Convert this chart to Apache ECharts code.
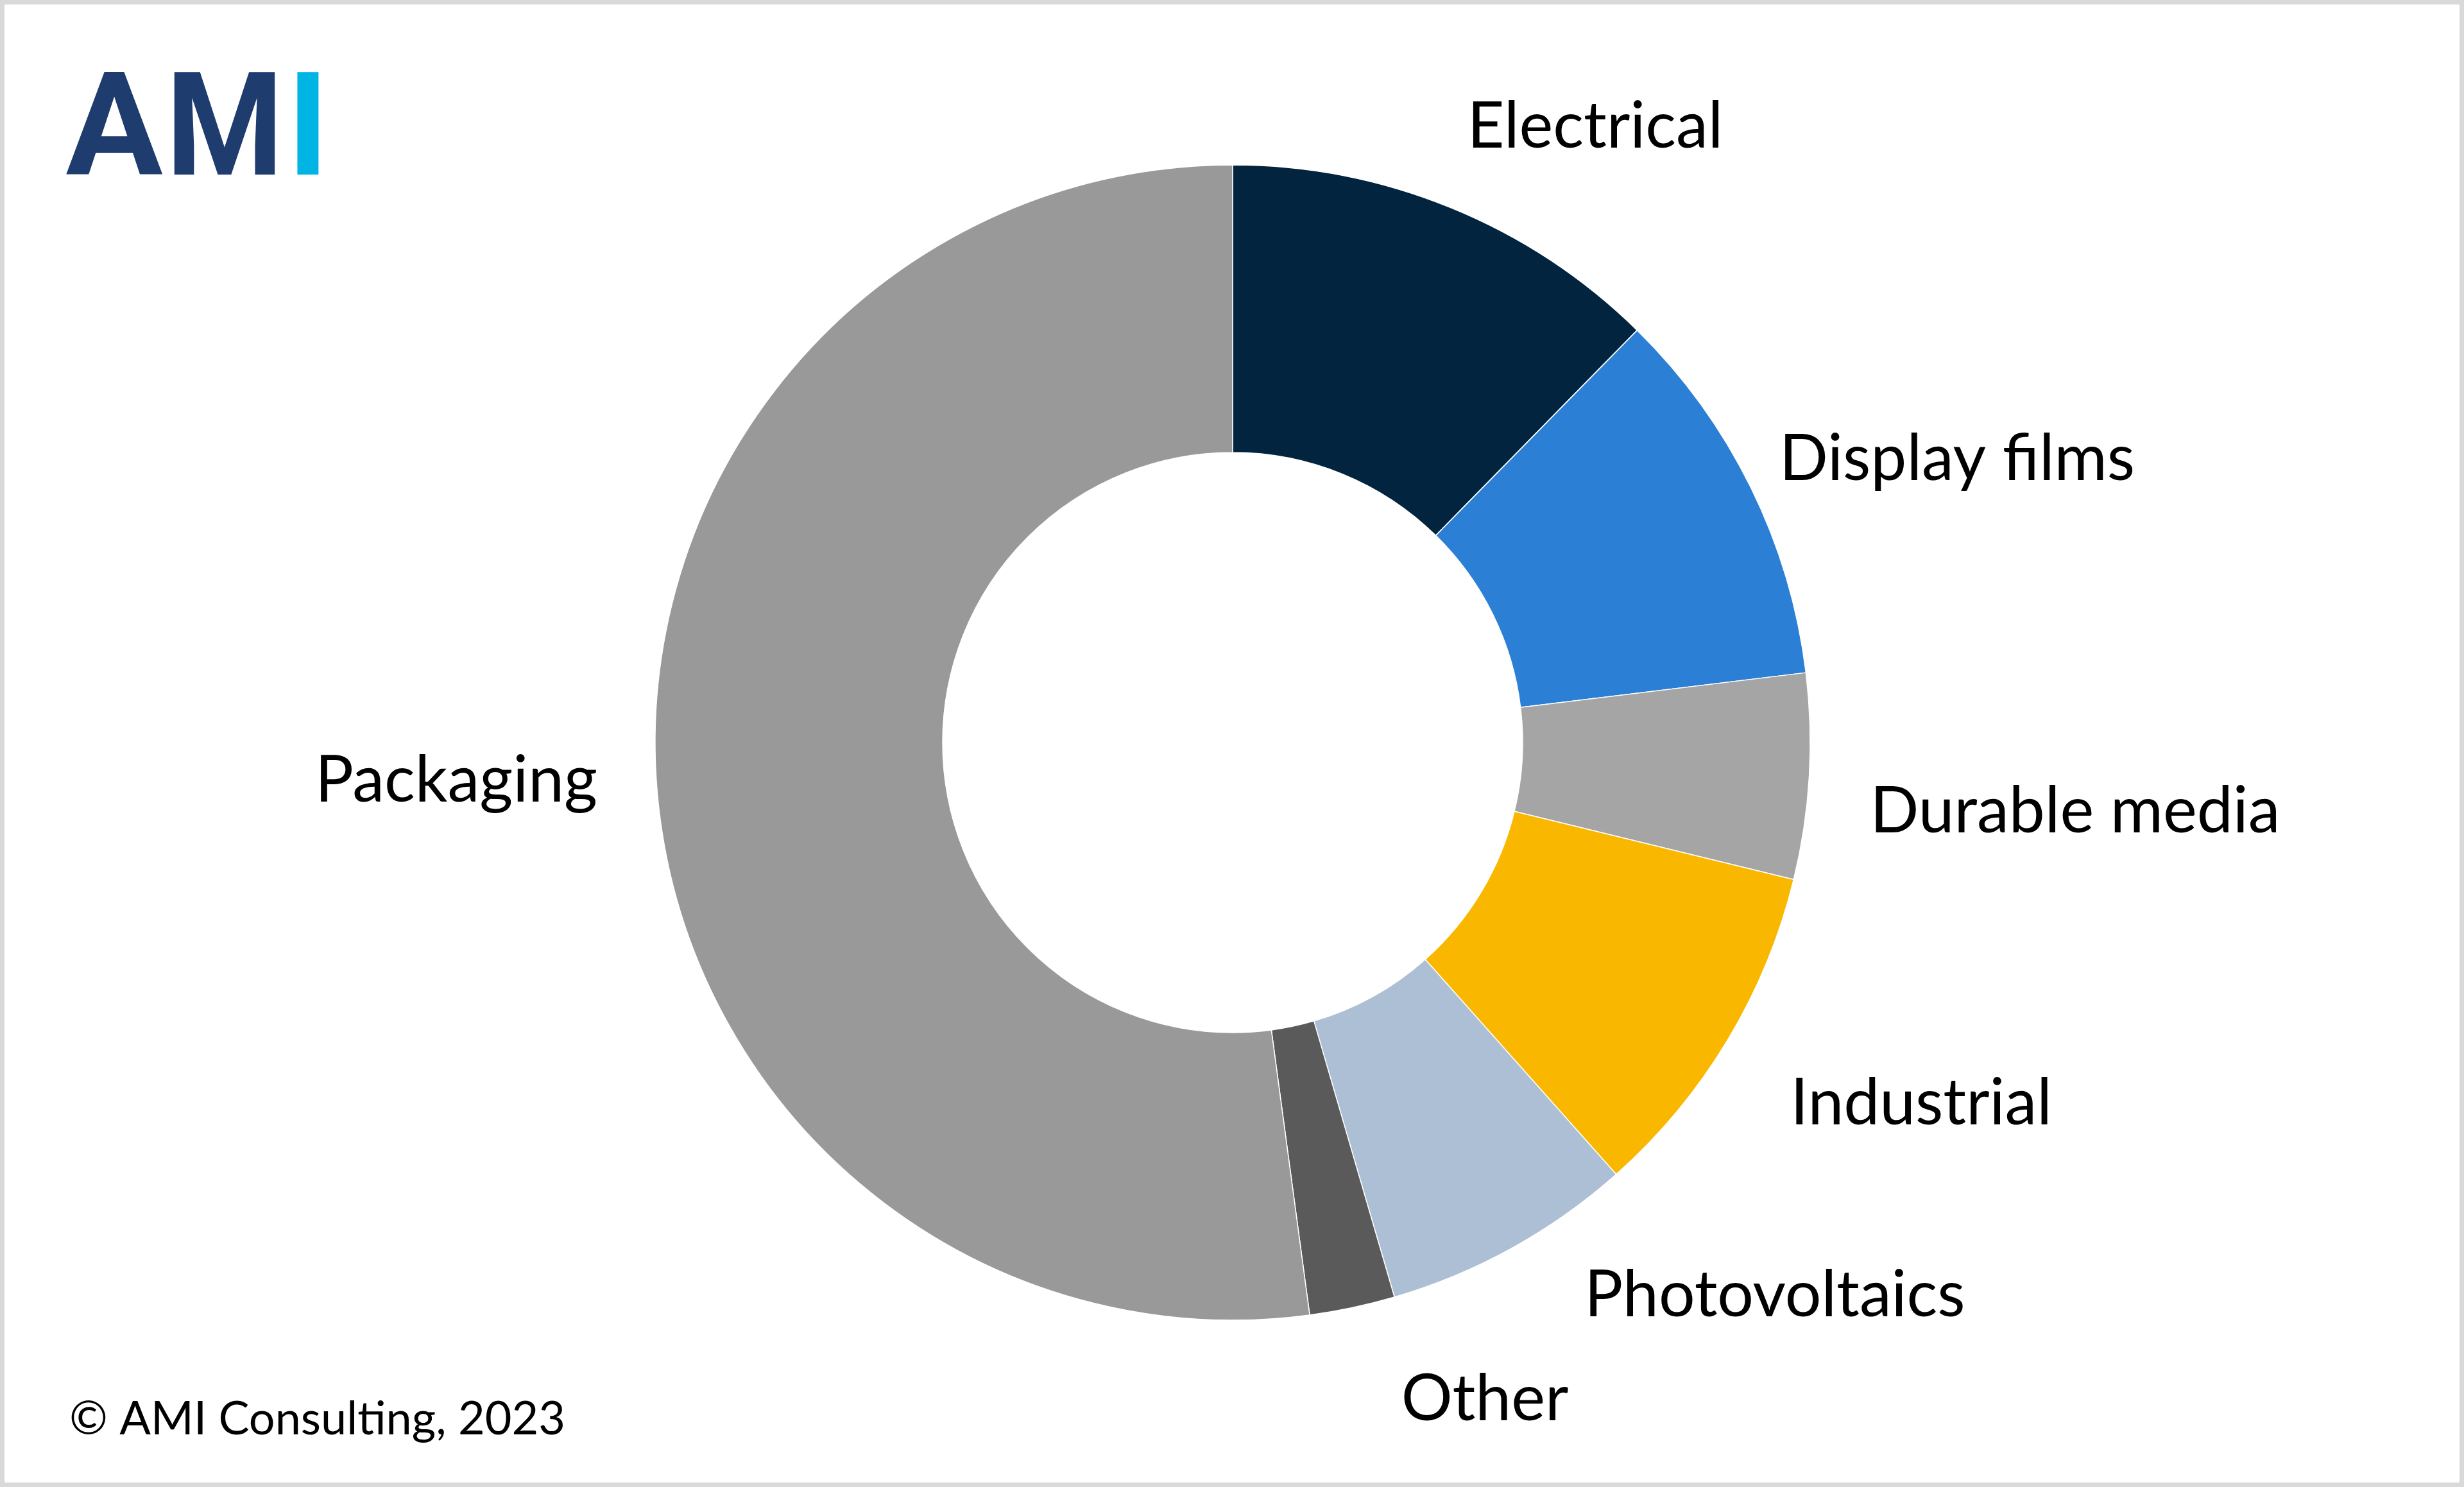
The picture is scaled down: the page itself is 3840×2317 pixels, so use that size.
<!DOCTYPE html>
<html>
<head>
<meta charset="utf-8">
<script src="https://cdn.jsdelivr.net/npm/echarts@6/dist/echarts.min.js"></script>
<style>
html,body{margin:0;padding:0;background:#fff;}
#chart{width:3840px;height:2317px;}
</style>
</head>
<body>
<div id="chart"></div>
<script>
// ---- data ----
const categories = ['Electrical', 'Display films', 'Durable media', 'Industrial', 'Photovoltaics', 'Other', 'Packaging'];
const shares = [12.35, 10.72, 5.74, 9.63, 7.04, 2.39, 52.13];
const sliceColors = ['#02243F', '#2B7FD5', '#A5A5A5', '#FAB700', '#ADBFD4', '#5A5A5A', '#999999'];
const labelPositions = [[2486, 198], [3050, 716], [3234, 1265], [2994, 1720], [2766, 2019], [2314, 2181], [711, 1217]];
const copyrightText = '\u00A9 AMI Consulting, 2023';

const chart = echarts.init(document.getElementById('chart'), null, {renderer: 'canvas'});

const option = {
  animation: false,
  backgroundColor: '#ffffff',
  graphic: [
    {type: 'rect', shape: {x: 3.5, y: 3.5, width: 3833, height: 2310}, style: {fill: 'none', stroke: '#D9D9D9', lineWidth: 7}, z: 10},
    {type: 'text', x: 178, y: 216, scaleX: 1.0, style: {text: 'A', font: '700 225px Roboto', fill: '#1F3C6E', textAlign: 'center', textVerticalAlign: 'middle'}},
    {type: 'text', x: 350, y: 216, scaleX: 0.93, style: {text: 'M', font: '700 225px Roboto', fill: '#1F3C6E', textAlign: 'center', textVerticalAlign: 'middle'}},
    {type: 'text', x: 480, y: 216, scaleX: 1.0, style: {text: 'I', font: '700 225px Roboto', fill: '#00B4E4', textAlign: 'center', textVerticalAlign: 'middle'}},
    {type: 'text', x: 108, y: 2212, style: {text: copyrightText, font: '72px Lato', fill: '#000', textAlign: 'left', textVerticalAlign: 'middle'}}
  ],
  series: [{
    type: 'pie',
    radius: [452, 900],
    center: [1921, 1157],
    startAngle: 90,
    clockwise: true,
    avoidLabelOverlap: false,
    silent: true,
    itemStyle: {borderColor: '#ffffff', borderWidth: 1.5},
    label: {show: true, position: 'outside', formatter: '{b}', fontFamily: 'Lato', fontSize: 100, color: '#000'},
    labelLine: {show: false},
    labelLayout: function (params) {
      const p = labelPositions[params.dataIndex];
      return {x: p[0], y: p[1], align: 'center', verticalAlign: 'middle'};
    },
    data: categories.map((c, i) => ({name: c, value: shares[i], itemStyle: {color: sliceColors[i]}}))
  }]
};
chart.setOption(option);
</script>
</body>
</html>
